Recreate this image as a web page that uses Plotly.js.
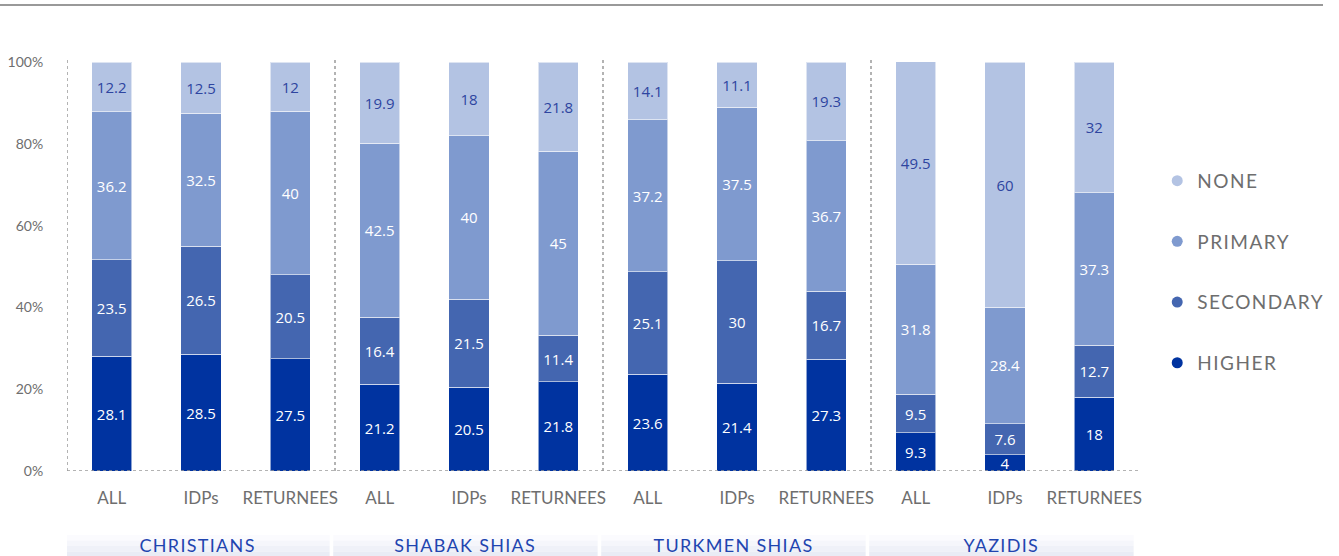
<!DOCTYPE html>
<html>
<head>
<meta charset="utf-8">
<script src="https://cdn.plot.ly/plotly-3.0.1.min.js"></script>
<style>
  html, body { margin: 0; padding: 0; background: #ffffff; }
  #chart { width: 1339px; height: 556px; }
  #chart .legendtext { letter-spacing: 1.5px; }
  #chart .legend .scrollbox, #chart .legend { clip-path: none !important; }
  #chart .annotation-text { letter-spacing: 1.3px; }
</style>
</head>
<body>
<div id="chart"></div>
<script>
// ---- data ----
const groups = ["CHRISTIANS", "SHABAK SHIAS", "TURKMEN SHIAS", "YAZIDIS"];
const subCategories = ["ALL", "IDPs", "RETURNEES"];
const higher    = [28.1, 28.5, 27.5, 21.2, 20.5, 21.8, 23.6, 21.4, 27.3, 9.3, 4, 18];
const secondary = [23.5, 26.5, 20.5, 16.4, 21.5, 11.4, 25.1, 30, 16.7, 9.5, 7.6, 12.7];
const primary   = [36.2, 32.5, 40, 42.5, 40, 45, 37.2, 37.5, 36.7, 31.8, 28.4, 37.3];
const none      = [12.2, 12.5, 12, 19.9, 18, 21.8, 14.1, 11.1, 19.3, 49.5, 60, 32];
const seriesNames = ["HIGHER", "SECONDARY", "PRIMARY", "NONE"];
const yTicks = [0, 20, 40, 60, 80, 100];

// ---- styles ----
const colors = ["#0033A0", "#4466B0", "#7F9ACF", "#B3C3E3"];
const labelColors = ["#ffffff", "#ffffff", "#ffffff", "#2E45A0"];
const numFont = "'Open Sans', 'Noto Sans', sans-serif";
const axFont = "Lato, 'Open Sans', sans-serif";

const xIdx = [];
const xText = [];
groups.forEach((g, gi) => subCategories.forEach((s, si) => {
  xIdx.push(gi * subCategories.length + si);
  xText.push(s);
}));

const seriesVals = [higher, secondary, primary, none];
const traces = seriesVals.map((vals, i) => ({
  type: "bar",
  x: xIdx,
  y: vals,
  name: seriesNames[i],
  width: 0.45,
  marker: { color: colors[i], line: { color: "rgba(255,255,255,0.55)", width: 1 } },
  text: vals.map(v => String(v)),
  textposition: "inside",
  insidetextanchor: "middle",
  textangle: 0,
  textfont: { family: numFont, size: 15, color: labelColors[i] },
  hoverinfo: "skip",
  showlegend: false
}));

// legend entries (circle markers), top to bottom: NONE, PRIMARY, SECONDARY, HIGHER
[3, 2, 1, 0].forEach(i => {
  traces.push({
    type: "scatter",
    mode: "markers",
    x: [null], y: [null],
    name: seriesNames[i],
    legendgroup: seriesNames[i],
    marker: { color: colors[i], size: 11, symbol: "circle" },
    hoverinfo: "skip",
    showlegend: true
  });
});

const shapes = [];
// top rule
shapes.push({ type: "line", xref: "paper", yref: "paper", x0: -67/1072, x1: (1323-67)/1072,
  y0: (471-5)/409, y1: (471-5)/409, line: { color: "#777777", width: 1.5 } });
// baseline dotted
shapes.push({ type: "line", xref: "paper", yref: "y", x0: 0, x1: 1, y0: 0, y1: 0,
  line: { color: "#9a9a9a", width: 1.5, dash: "dot" } });
// group separators
groups.forEach((g, gi) => {
  const xs = gi * subCategories.length - 0.5;
  shapes.push({ type: "line", xref: "x", yref: "paper", x0: xs, x1: xs, y0: 0, y1: 1.005,
    line: { color: "#9a9a9a", width: 1.5, dash: "dot" } });
});

// group label boxes (soft vertical gradient via stripes)
const annotations = [];
const boxTop = (471 - 535) / 409, boxBot = (471 - 557) / 409;
const stripeCols = ["#fbfbfe", "#f5f6fb", "#eff1f8", "#e9ecf5"];
groups.forEach((g, gi) => {
  const x0 = gi * subCategories.length - 0.52;
  const x1 = gi * subCategories.length + subCategories.length - 0.56;
  const n = stripeCols.length;
  for (let k = 0; k < n; k++) {
    shapes.push({ type: "rect", xref: "x", yref: "paper", layer: "below",
      x0: x0, x1: x1,
      y0: boxTop + (boxBot - boxTop) * k / n, y1: boxTop + (boxBot - boxTop) * (k + 1) / n,
      fillcolor: stripeCols[k], line: { width: 0 } });
  }
  annotations.push({
    xref: "x", yref: "paper", x: (x0 + x1) / 2, y: (471 - 545) / 409,
    text: g, showarrow: false, xanchor: "center", yanchor: "middle",
    font: { family: axFont, size: 18, color: "#1F45B0" }
  });
});

const layout = {
  width: 1339, height: 556,
  margin: { l: 67, r: 200, t: 62, b: 85 },
  paper_bgcolor: "#ffffff", plot_bgcolor: "#ffffff",
  barmode: "stack",
  bargap: 0.55,
  uniformtext: { minsize: 15, mode: "show" },
  xaxis: {
    range: [-0.5, 11.5],
    tickmode: "array", tickvals: xIdx, ticktext: xText,
    showgrid: false, zeroline: false, showline: false,
    ticks: "outside", ticklen: 12, tickcolor: "rgba(0,0,0,0)",
    tickfont: { family: axFont, size: 17, color: "#6e6e6e" },
    fixedrange: true
  },
  yaxis: {
    range: [0, 100],
    tickmode: "array", tickvals: yTicks, ticktext: yTicks.map(v => v + "%"),
    showgrid: false, zeroline: false, showline: false,
    ticks: "outside", ticklen: 20, tickcolor: "rgba(0,0,0,0)",
    tickfont: { family: axFont, size: 14, color: "#6e6e6e" },
    fixedrange: true
  },
  legend: {
    x: 1.017, xanchor: "left", y: 0.756, yanchor: "top",
    font: { family: axFont, size: 19, color: "#6e6e6e" },
    tracegroupgap: 33,
    itemclick: false, itemdoubleclick: false,
    bgcolor: "rgba(0,0,0,0)"
  },
  showlegend: true,
  shapes: shapes,
  annotations: annotations,
  hovermode: false
};

Plotly.newPlot("chart", traces, layout, { displayModeBar: false, staticPlot: true });
</script>
</body>
</html>
